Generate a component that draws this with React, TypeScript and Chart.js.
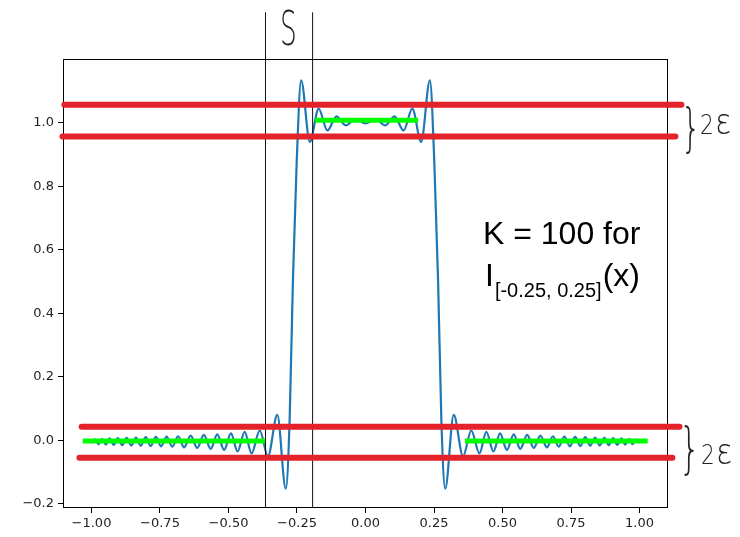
import React, { useEffect, useRef } from 'react';
import { Chart, registerables } from 'chart.js';

Chart.register(...registerables);

// Blue curve (partial sum approximation of the indicator)
const blueX = [
  -1.000, -0.988, -0.975, -0.962, -0.948, -0.934, -0.919, -0.904, -0.888, -0.872,
  -0.855, -0.838, -0.820, -0.802, -0.784, -0.765, -0.746, -0.726, -0.705, -0.684,
  -0.662, -0.638, -0.614, -0.590, -0.565, -0.541, -0.516, -0.491, -0.467, -0.441,
  -0.416, -0.386, -0.356, -0.322, -0.291, -0.277, -0.265, -0.251,
  -0.235, -0.203, -0.171, -0.139, -0.106, -0.072, -0.036, 0.000,
  0.036, 0.072, 0.106, 0.139, 0.171, 0.203, 0.235,
  0.251, 0.265, 0.277, 0.291, 0.322, 0.356, 0.386, 0.416,
  0.441, 0.467, 0.491, 0.516, 0.541, 0.565, 0.590, 0.614, 0.638, 0.662,
  0.684, 0.705, 0.726, 0.746, 0.765, 0.784, 0.802, 0.820, 0.838, 0.855,
  0.872, 0.888, 0.904, 0.919, 0.934, 0.948, 0.962, 0.975, 0.988, 1.000,
];
const blueY = [
  -0.008, 0.003, -0.012, 0.005, -0.013, 0.006, -0.014, 0.007, -0.015, 0.008,
  -0.016, 0.009, -0.017, 0.010, -0.018, 0.011, -0.019, 0.012, -0.020, 0.013,
  -0.022, 0.015, -0.024, 0.017, -0.027, 0.019, -0.030, 0.022, -0.035, 0.027,
  -0.041, 0.031, -0.050, 0.080, -0.152, 0.060, 0.500, 0.880,
  1.134, 0.940, 1.045, 0.976, 1.020, 0.992, 1.012, 0.998,
  1.012, 0.992, 1.020, 0.976, 1.045, 0.940, 1.134,
  0.880, 0.500, 0.060, -0.152, 0.080, -0.050, 0.031, -0.041,
  0.027, -0.035, 0.022, -0.030, 0.019, -0.027, 0.017, -0.024, 0.015, -0.022,
  0.013, -0.020, 0.012, -0.019, 0.011, -0.018, 0.010, -0.017, 0.009, -0.016,
  0.008, -0.015, 0.007, -0.014, 0.006, -0.013, 0.005, -0.012, 0.003, -0.008,
];

// Red epsilon bands
const redLevels = [1.057, 0.957, 0.043, -0.055];
const redStarts = [-1.099, -1.106, -1.036, -1.044];
const redEnds = [1.153, 1.131, 1.146, 1.120];

// Green segments
const greenLevels = [1.008, -0.002, -0.002];
const greenStarts = [-0.184, -1.032, 0.363];
const greenEnds = [0.192, -0.367, 1.030];

// Black delta lines
const deltaLines = [-0.365, -0.193];
const deltaTop = 1.348;

const xTicks = [-1.0, -0.75, -0.5, -0.25, 0.0, 0.25, 0.5, 0.75, 1.0];
const yTicks = [-0.2, 0.0, 0.2, 0.4, 0.6, 0.8, 1.0];
const xMin = -1.104;
const xMax = 1.104;
const yMin = -0.213;
const yMax = 1.201;

const minus = (v: number, d: number) => (v < -1e-9 ? '\u2212' : '') + Math.abs(v).toFixed(d);

const annotPlugin = {
  id: 'annot',
  beforeDatasetsDraw(chart: any) {
    const { ctx, chartArea } = chart;
    ctx.save();
    ctx.strokeStyle = '#000';
    ctx.lineWidth = 1;
    ctx.strokeRect(chartArea.left + 0.5, chartArea.top + 0.5, chartArea.right - chartArea.left - 1, chartArea.bottom - chartArea.top - 1);
    ctx.restore();
  },
  afterDraw(chart: any) {
    const { ctx } = chart;
    ctx.save();
    ctx.fillStyle = '#000';
    ctx.textBaseline = 'alphabetic';
    ctx.textAlign = 'left';
    // K = 100 label
    ctx.font = '32px "Liberation Sans", Arial, sans-serif';
    ctx.fillText('K = 100 for', 483, 244);
    ctx.fillText('I', 485, 286);
    const wI = ctx.measureText('I').width;
    ctx.font = '20px "Liberation Sans", Arial, sans-serif';
    const sub = '[-0.25, 0.25]';
    ctx.fillText(sub, 485 + wI + 1, 297);
    const wSub = ctx.measureText(sub).width;
    ctx.font = '32px "Liberation Sans", Arial, sans-serif';
    ctx.fillText('(x)', 485 + wI + 2 + wSub, 286);

    // handwritten marks
    ctx.fillStyle = '#222';
    const hand = (txt: string, x: number, y: number, size: number, sx: number) => {
      ctx.save();
      ctx.translate(x, y);
      ctx.scale(sx, 1);
      ctx.font = `200 ${size}px "DejaVu Sans", sans-serif`;
      ctx.fillText(txt, 0, 0);
      ctx.restore();
    };
    hand('S', 280, 45, 48, 0.55);
    hand('}', 681, 145, 52, 0.6);
    hand('2', 700, 134, 27, 0.8);
    hand('\u03b5', 715, 134, 36, 0.85);
    hand('}', 679, 467, 56, 0.6);
    hand('2', 701, 464, 27, 0.8);
    hand('\u03b5', 716, 464, 36, 0.85);
    ctx.restore();
  },
};

export default function App() {
  const ref = useRef<HTMLCanvasElement | null>(null);
  useEffect(() => {
    if (!ref.current) return;
    const datasets: any[] = [];
    datasets.push({
      data: blueX.map((x, i) => ({ x, y: blueY[i] })),
      borderColor: '#1f77b4',
      borderWidth: 2.2,
      pointRadius: 0,
      cubicInterpolationMode: 'monotone',
      fill: false,
      order: 5,
    });
    deltaLines.forEach((x) => {
      datasets.push({
        data: [{ x, y: yMin }, { x, y: deltaTop }],
        borderColor: '#111',
        borderWidth: 1,
        pointRadius: 0,
        clip: false,
        order: 4,
      });
    });
    greenLevels.forEach((y, i) => {
      datasets.push({
        data: [{ x: greenStarts[i], y }, { x: greenEnds[i], y }],
        borderColor: '#00ff00',
        borderWidth: 5,
        pointRadius: 0,
        clip: false,
        order: 2,
      });
    });
    redLevels.forEach((y, i) => {
      datasets.push({
        data: [{ x: redStarts[i], y }, { x: redEnds[i], y }],
        borderColor: '#e4222a',
        borderWidth: 6,
        borderCapStyle: 'round',
        pointRadius: 0,
        clip: false,
        order: 1,
      });
    });
    const tickFont = { family: '"DejaVu Sans", sans-serif', size: 13 };
    const chart = new Chart(ref.current, {
      type: 'line',
      data: { datasets },
      options: {
        animation: false,
        responsive: false,
        devicePixelRatio: 1,
        layout: { padding: { top: 59, right: 72, left: 0, bottom: 0 } },
        plugins: { legend: { display: false }, tooltip: { enabled: false } },
        elements: { line: { tension: 0 } },
        scales: {
          x: {
            type: 'linear',
            min: xMin,
            max: xMax,
            afterBuildTicks: (s: any) => { s.ticks = xTicks.map((v) => ({ value: v })); },
            afterFit: (s: any) => { s.height = 29; },
            grid: { display: true, drawOnChartArea: false, drawTicks: true, tickLength: 5, color: '#000' },
            border: { display: false },
            ticks: { autoSkip: false, maxRotation: 0, padding: 3, color: '#222', font: tickFont, callback: (v: any) => minus(Number(v), 2) },
          },
          y: {
            type: 'linear',
            min: yMin,
            max: yMax,
            afterBuildTicks: (s: any) => { s.ticks = yTicks.map((v) => ({ value: v })); },
            afterFit: (s: any) => { s.width = 63; },
            grid: { display: true, drawOnChartArea: false, drawTicks: true, tickLength: 5, color: '#000' },
            border: { display: false },
            ticks: { autoSkip: false, padding: 4, color: '#222', font: tickFont, callback: (v: any) => minus(Number(v), 1) },
          },
        },
      },
      plugins: [annotPlugin],
    } as any);
    return () => chart.destroy();
  }, []);
  return (
    <div style={{ position: 'absolute', left: 0, top: 0, width: 740, height: 537, background: '#fff' }}>
      <canvas ref={ref} width={740} height={537} />
    </div>
  );
}
